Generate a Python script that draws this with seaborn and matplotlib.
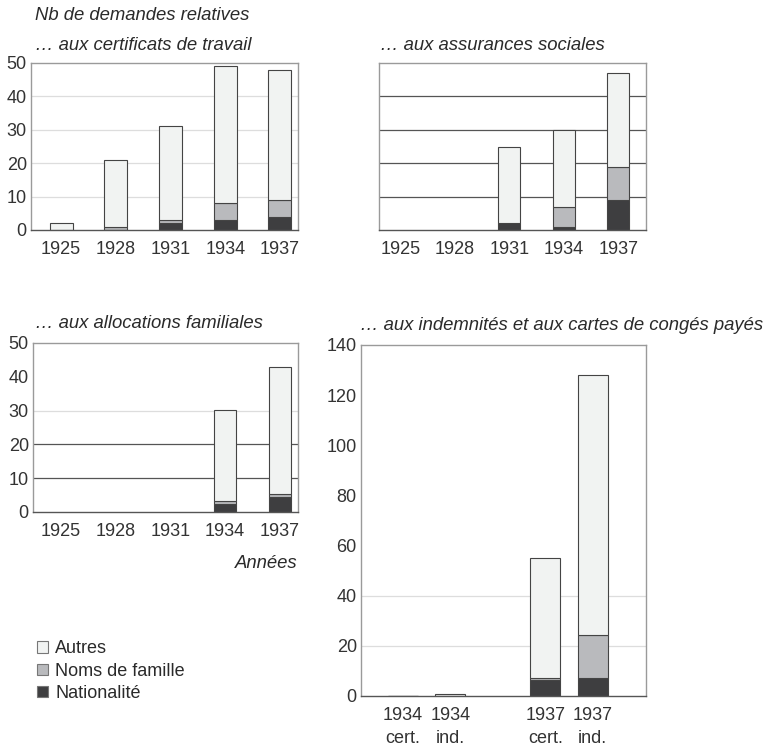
import matplotlib
matplotlib.use("Agg")
import matplotlib.pyplot as plt
from matplotlib.patches import Patch
import seaborn as sns

sns.set_style("white")
plt.rcParams["font.family"] = ["Liberation Sans", "DejaVu Sans"]

# données
annees = ["1925", "1928", "1931", "1934", "1937"]

# ... aux certificats de travail
cert_annees = ["1925", "1928", "1931", "1934", "1937"]
cert_nat = [0, 0, 2, 3, 4]
cert_noms = [0, 1, 1, 5, 5]
cert_autres = [2, 20, 28, 41, 39]

# ... aux assurances sociales
assu_annees = ["1931", "1934", "1937"]
assu_nat = [2, 1, 9]
assu_noms = [0, 6, 10]
assu_autres = [23, 23, 28]

# ... aux allocations familiales
alloc_annees = ["1934", "1937"]
alloc_nat = [2.3, 4.3]
alloc_noms = [0.9, 1.0]
alloc_autres = [27, 37.7]

# ... aux indemnités et aux cartes de congés payés
conges_cat = ["1934\ncert.", "1934\nind.", "1937\ncert.", "1937\nind."]
conges_ordre = ["1934\ncert.", "1934\nind.", " ", "1937\ncert.", "1937\nind."]
conges_nat = [0, 0, 6.2, 7.2]
conges_noms = [0, 0, 0.8, 17.3]
conges_autres = [0, 0.8, 48, 103.5]

legende = ["Autres", "Noms de famille", "Nationalité"]
c_autres = "#f1f3f2"
c_noms = "#b9babd"
c_nat = "#3e3e40"
bord = "#444444"

W, H = 765, 752
fig = plt.figure(figsize=(W / 100, H / 100), dpi=100)


def axe(l, t, r, b):
    return fig.add_axes([l / W, 1 - b / H, (r - l) / W, (b - t) / H])


def empile(ax, cats, nat, noms, autres, ordre, largeur):
    bas2 = [a + b for a, b in zip(nat, noms)]
    sns.barplot(x=cats, y=nat, order=ordre, color=c_nat, width=largeur,
                edgecolor=bord, linewidth=0.8, saturation=1, ax=ax)
    sns.barplot(x=cats, y=noms, order=ordre, color=c_noms, width=largeur,
                edgecolor=bord, linewidth=0.8, saturation=1, bottom=nat, ax=ax)
    sns.barplot(x=cats, y=autres, order=ordre, color=c_autres, width=largeur,
                edgecolor=bord, linewidth=0.8, saturation=1, bottom=bas2, ax=ax)


def style(ax, xlim, ylim, yticks, grilles, ylab=True):
    ax.set_xlim(*xlim)
    ax.set_ylim(*ylim)
    ax.set_yticks(yticks)
    if not ylab:
        ax.set_yticklabels([])
    ax.set_xlabel("")
    ax.set_ylabel("")
    for v, c in grilles:
        ax.axhline(v, color=c, lw=0.9, zorder=0)
    for s in ["top", "right", "left"]:
        ax.spines[s].set_color("#9a9a9a")
        ax.spines[s].set_linewidth(1)
    ax.spines["bottom"].set_color("#555555")
    ax.spines["bottom"].set_linewidth(1)
    ax.tick_params(axis="y", length=0, labelsize=13, colors="#333333", pad=3)
    ax.tick_params(axis="x", length=4, width=0.8, color="#777777",
                   labelsize=13, labelcolor="#333333", pad=4)


clair = "#dddddd"
fonce = "#555555"

# panneau 1
ax1 = axe(31, 63, 298, 230)
empile(ax1, cert_annees, cert_nat, cert_noms, cert_autres, annees, 0.42)
style(ax1, (-0.55, 4.33), (0, 50), [0, 10, 20, 30, 40, 50],
      [(10, clair), (20, clair), (30, clair), (40, clair)])

# panneau 2
ax2 = axe(379, 63, 646, 230)
empile(ax2, assu_annees, assu_nat, assu_noms, assu_autres, annees, 0.41)
style(ax2, (-0.39, 4.51), (0, 50), [0, 10, 20, 30, 40, 50],
      [(10, fonce), (20, fonce), (30, fonce), (40, fonce)], ylab=False)

# panneau 3
ax3 = axe(33, 343, 298, 512)
empile(ax3, alloc_annees, alloc_nat, alloc_noms, alloc_autres, annees, 0.41)
style(ax3, (-0.51, 4.33), (0, 50), [0, 10, 20, 30, 40, 50],
      [(10, fonce), (20, fonce), (30, clair)])

# panneau 4
ax4 = axe(361, 345, 646, 696)
empile(ax4, conges_cat, conges_nat, conges_noms, conges_autres, conges_ordre, 0.63)
style(ax4, (-0.88, 5.12), (0, 140), [0, 20, 40, 60, 80, 100, 120, 140],
      [(20, clair), (40, clair)])
ax4.set_xticks([0, 1, 3, 4])
ax4.set_xticklabels(conges_cat, linespacing=1.45)

# titres
t_kw = dict(fontsize=13.3, style="italic", color="#2a2a2a", va="center")
fig.text(35 / W, 1 - 15 / H, "Nb de demandes relatives", **t_kw)
fig.text(35 / W, 1 - 45 / H, "… aux certificats de travail", **t_kw)
fig.text(380 / W, 1 - 45 / H, "… aux assurances sociales", **t_kw)
fig.text(35 / W, 1 - 323 / H, "… aux allocations familiales", **t_kw)
fig.text(360 / W, 1 - 325 / H, "… aux indemnités et aux cartes de congés payés", **t_kw)
fig.text(298 / W, 1 - 563 / H, "Années", ha="right", fontsize=13.3,
         style="italic", color="#2a2a2a", va="center")

# légende
poignees = [Patch(facecolor=c, edgecolor="#777777", linewidth=0.8)
            for c in [c_autres, c_noms, c_nat]]
fig.legend(poignees, legende, loc="upper left", bbox_to_anchor=(30 / W, 1 - 633 / H),
           frameon=False, fontsize=13, handlelength=0.6, handleheight=0.6,
           handletextpad=0.4, labelspacing=0.3, borderaxespad=0, labelcolor="#2a2a2a")

fig.savefig("out.png", dpi=100)
